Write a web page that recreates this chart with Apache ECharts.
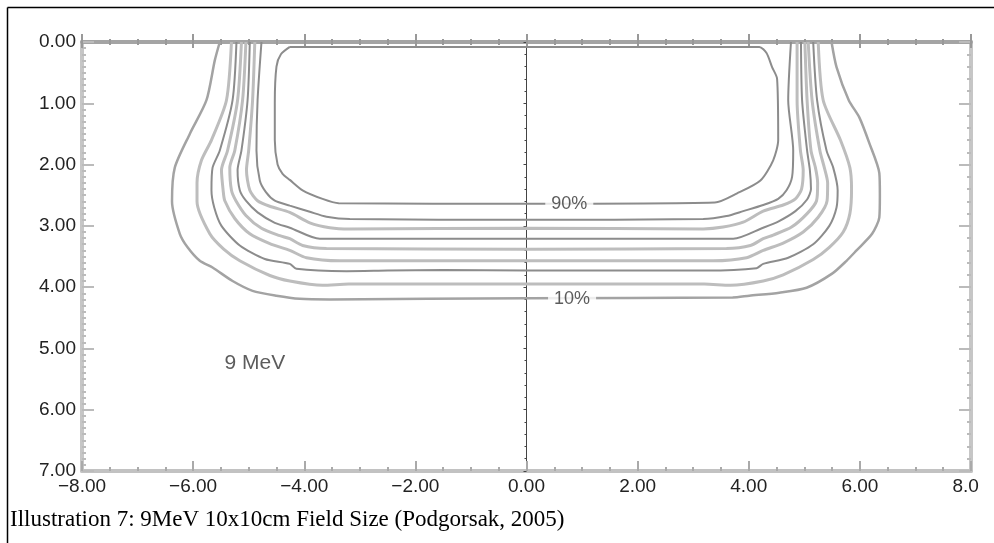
<!DOCTYPE html>
<html>
<head>
<meta charset="utf-8">
<script src="https://cdn.jsdelivr.net/npm/echarts@6/dist/echarts.min.js"></script>
<style>
html,body{margin:0;padding:0;background:#fff;}
#chart{width:994px;height:543px;}
</style>
</head>
<body>
<div id="chart"></div>
<script>
// ---- data (x in cm from axis, y = depth in cm) ----
const xTickValues = [-8, -6, -4, -2, 0, 2, 4, 6, 8];
const xTickLabels = ['−8.00', '−6.00', '−4.00', '−2.00', '0.00', '2.00', '4.00', '6.00', '8.00'];
const yTickValues = [0, 1, 2, 3, 4, 5, 6, 7];
const yTickLabels = ['0.00', '1.00', '2.00', '3.00', '4.00', '5.00', '6.00', '7.00'];

const iso90 = [[-4.26,0.08],[-4.42,0.2],[-4.5,0.4],[-4.53,1.0],[-4.53,1.6],[-4.48,2.0],[-4.39,2.15],[-4.26,2.25],[-4.03,2.42],[-3.67,2.56],[-3.38,2.63],[0,2.64],[3.39,2.62],[3.79,2.47],[4.21,2.26],[4.44,1.93],[4.53,1.6],[4.51,0.6],[4.42,0.41],[4.32,0.18],[4.19,0.08],[-4.26,0.08]];
const iso80 = [[-4.77,0],[-4.84,0.95],[-4.86,1.77],[-4.80,2.26],[-4.69,2.45],[-4.53,2.59],[-4.26,2.67],[-3.90,2.77],[-3.60,2.85],[-3.18,2.89],[0,2.90],[3.18,2.89],[3.6,2.84],[3.9,2.76],[4.26,2.66],[4.53,2.56],[4.68,2.42],[4.78,2.2],[4.8,1.77],[4.71,0.95],[4.76,0]];
const iso70 = [[-4.89,0],[-4.93,0.95],[-5.0,1.77],[-5.04,2.09],[-4.98,2.42],[-4.84,2.59],[-4.62,2.68],[-4.26,2.78],[-3.90,2.95],[-3.54,3.03],[-3.18,3.05],[0,3.04],[3.18,3.05],[3.54,3.02],[3.9,2.94],[4.26,2.76],[4.62,2.66],[4.84,2.56],[4.95,2.4],[4.98,2.09],[4.93,1.77],[4.87,0.95],[4.87,0]];
const iso60 = [[-4.98,0],[-5.02,0.95],[-5.13,1.77],[-5.20,2.09],[-5.16,2.42],[-5.05,2.59],[-4.84,2.78],[-4.53,2.95],[-4.26,3.03],[-3.72,3.21],[0,3.21],[3.72,3.21],[4.26,3.03],[4.53,2.93],[4.84,2.76],[5.05,2.57],[5.12,2.4],[5.1,2.09],[5.05,1.77],[4.96,0.95],[4.94,0]];
const iso50 = [[-5.05,0],[-5.11,0.95],[-5.25,1.77],[-5.34,2.05],[-5.31,2.42],[-5.23,2.59],[-5.05,2.83],[-4.77,3.04],[-4.44,3.16],[-4.26,3.21],[-4.03,3.32],[-3.60,3.37],[0,3.38],[3.6,3.37],[4.03,3.32],[4.26,3.21],[4.44,3.15],[4.77,3.02],[5.05,2.8],[5.22,2.59],[5.24,2.3],[5.2,2.05],[5.12,1.77],[5.05,0.95],[5.01,0]];
const iso40 = [[-5.13,0],[-5.20,0.95],[-5.38,1.77],[-5.49,2.09],[-5.46,2.42],[-5.43,2.59],[-5.25,2.88],[-4.98,3.13],[-4.62,3.29],[-4.26,3.40],[-3.96,3.52],[-3.36,3.57],[0,3.57],[3.36,3.57],[3.96,3.52],[4.26,3.4],[4.62,3.28],[4.98,3.1],[5.25,2.86],[5.41,2.59],[5.42,2.3],[5.36,2.05],[5.28,1.77],[5.14,0.95],[5.07,0]];
const iso30 = [[-5.22,0],[-5.29,0.95],[-5.52,1.77],[-5.65,2.05],[-5.67,2.42],[-5.62,2.7],[-5.49,3.0],[-5.16,3.32],[-4.71,3.54],[-4.26,3.62],[-4.14,3.70],[-3.24,3.74],[-2.5,3.73],[-1.5,3.72],[0,3.73],[1.5,3.73],[3.24,3.73],[4.14,3.69],[4.26,3.62],[4.71,3.52],[5.16,3.3],[5.45,3.0],[5.58,2.7],[5.6,2.42],[5.52,2.05],[5.4,1.77],[5.23,0.95],[5.16,0]];
const iso20 = [[-5.31,0],[-5.40,0.95],[-5.67,1.6],[-5.85,1.93],[-5.93,2.3],[-5.93,2.6],[-5.70,3.13],[-5.45,3.38],[-5.16,3.57],[-4.62,3.81],[-4.26,3.9],[-3.67,3.97],[-3.2,3.95],[0,3.95],[3.2,3.95],[3.67,3.97],[4.26,3.9],[4.62,3.8],[5.16,3.55],[5.45,3.35],[5.7,3.1],[5.82,2.8],[5.85,2.4],[5.82,2.05],[5.65,1.6],[5.34,0.95],[5.25,0]];
const iso10 = [[-5.52,0],[-5.61,0.3],[-5.76,0.95],[-6.06,1.5],[-6.33,2.05],[-6.38,2.6],[-6.24,3.13],[-6.1,3.35],[-5.88,3.57],[-5.65,3.68],[-5.29,3.9],[-4.93,4.06],[-4.5,4.14],[-4.08,4.19],[-3.54,4.2],[0,4.18],[3.71,4.17],[4.01,4.14],[4.55,4.09],[5.04,4.01],[5.5,3.78],[5.76,3.57],[5.94,3.4],[6.22,3.13],[6.35,2.86],[6.36,2.5],[6.35,2.14],[6.17,1.65],[5.99,1.23],[5.8,0.95],[5.58,0.41],[5.49,0]];

const isoLabels = [{ name: '90%', value: [0.77, 2.64] }, { name: '10%', value: [0.82, 4.19] }];
const energyNote = [{ name: '9 MeV', value: [-4.89, 5.24] }];
const caption = 'Illustration 7: 9MeV 10x10cm Field Size (Podgorsak, 2005)';

// ---- chart ----
const DARK = '#8c8c8c', LIGHT = '#bdbdbd', MID = '#a3a3a3';
const contours = [
  { d: iso90, c: DARK, w: 2 }, { d: iso80, c: DARK, w: 2 }, { d: iso70, c: LIGHT, w: 3 },
  { d: iso60, c: DARK, w: 2 }, { d: iso50, c: LIGHT, w: 3 }, { d: iso40, c: LIGHT, w: 3 },
  { d: iso30, c: DARK, w: 2 }, { d: iso20, c: LIGHT, w: 3 }, { d: iso10, c: MID, w: 2.5 }
];
const FONT = "'Liberation Sans', Arial, sans-serif";
const xFmt = v => { const i = xTickValues.indexOf(Math.round(v)); return i >= 0 ? xTickLabels[i] : ''; };
const yFmt = v => { const i = yTickValues.indexOf(Math.round(v)); return i >= 0 ? yTickLabels[i] : ''; };

const baseX = { type: 'value', min: -8, max: 8, interval: 2, splitLine: { show: false } };
const baseY = { type: 'value', min: 0, max: 7, interval: 1, inverse: true, splitLine: { show: false } };

const chart = echarts.init(document.getElementById('chart'), null, { renderer: 'canvas' });
chart.setOption({
  animation: false,
  backgroundColor: '#fff',
  grid: { left: 82, right: 23, top: 42, bottom: 72 },
  xAxis: [
    Object.assign({}, baseX, { position: 'top',
      axisLine: { onZero: false, lineStyle: { color: '#a4a4a4', width: 4 } },
      axisTick: { inside: true, length: 6, lineStyle: { color: '#999', width: 2 } },
      minorTick: { show: true, splitNumber: 4, length: 3, lineStyle: { color: '#999', width: 2 } },
      axisLabel: { show: false } }),
    Object.assign({}, baseX, { position: 'top',
      axisLine: { show: false, onZero: false },
      axisTick: { inside: false, length: 8, lineStyle: { color: '#999', width: 2 } },
      minorTick: { show: true, splitNumber: 4, length: 3, lineStyle: { color: '#999', width: 2 } },
      axisLabel: { show: false } }),
    Object.assign({}, baseX, { position: 'bottom',
      axisLine: { onZero: false, lineStyle: { color: '#c2c2c2', width: 4 } },
      axisTick: { inside: true, length: 10, lineStyle: { color: '#aaa', width: 2 } },
      minorTick: { show: true, splitNumber: 4, length: 4, lineStyle: { color: '#aaa', width: 2 } },
      axisLabel: { show: true, formatter: xFmt, color: '#222', fontSize: 19, fontFamily: FONT, margin: 6 } })
  ],
  yAxis: [
    Object.assign({}, baseY, { position: 'left',
      axisLine: { onZero: true, lineStyle: { color: '#444', width: 1 } },
      axisTick: { inside: false, length: 3, lineStyle: { color: '#444', width: 1 } },
      minorTick: { show: true, splitNumber: 5, length: 2, lineStyle: { color: '#444', width: 1 } },
      axisLabel: { show: false } }),
    Object.assign({}, baseY, { position: 'left',
      axisLine: { onZero: false, lineStyle: { color: '#c6c6c6', width: 4 } },
      axisTick: { inside: true, length: 12, lineStyle: { color: '#bbb', width: 2 } },
      minorTick: { show: true, splitNumber: 10, length: 4, lineStyle: { color: '#bbb', width: 2 } },
      axisLabel: { show: true, formatter: yFmt, color: '#222', fontSize: 19, fontFamily: FONT, margin: 6 } }),
    Object.assign({}, baseY, { position: 'right',
      axisLine: { onZero: false, lineStyle: { color: '#c6c6c6', width: 4 } },
      axisTick: { inside: true, length: 12, lineStyle: { color: '#bbb', width: 2 } },
      minorTick: { show: true, splitNumber: 5, length: 4, lineStyle: { color: '#bbb', width: 2 } },
      axisLabel: { show: false } })
  ],
  series: contours.map(c => ({
    type: 'line', xAxisIndex: 0, yAxisIndex: 1, data: c.d,
    showSymbol: false, symbol: 'none', smooth: 0.25, silent: true,
    lineStyle: { color: c.c, width: c.w }, z: 2
  })).concat([
    { type: 'scatter', xAxisIndex: 0, yAxisIndex: 1, data: isoLabels, symbolSize: 0, silent: true, z: 5,
      label: { show: true, position: 'inside', formatter: '{b}', color: '#333', fontSize: 18, fontFamily: FONT,
        backgroundColor: '#fff', padding: [1, 6] } },
    { type: 'scatter', xAxisIndex: 0, yAxisIndex: 1, data: energyNote, symbolSize: 0, silent: true, z: 5,
      label: { show: true, position: 'inside', formatter: '{b}', color: '#333', fontSize: 21, fontFamily: FONT } }
  ]),
  graphic: [
    { type: 'line', z: 100, shape: { x1: 7.5, y1: 7.5, x2: 994, y2: 7.5 }, style: { stroke: '#000', lineWidth: 1.5 } },
    { type: 'line', z: 100, shape: { x1: 7.5, y1: 7.5, x2: 7.5, y2: 543 }, style: { stroke: '#000', lineWidth: 1.5 } },
    { type: 'rect', z: 100, shape: { x: 979, y: 474, width: 15, height: 28 }, style: { fill: '#fff' } },
    { type: 'text', z: 100, left: 10, top: 508,
      style: { text: caption, fill: '#000', font: "23px 'Liberation Serif', 'Times New Roman', serif" } }
  ]
});
</script>
</body>
</html>
